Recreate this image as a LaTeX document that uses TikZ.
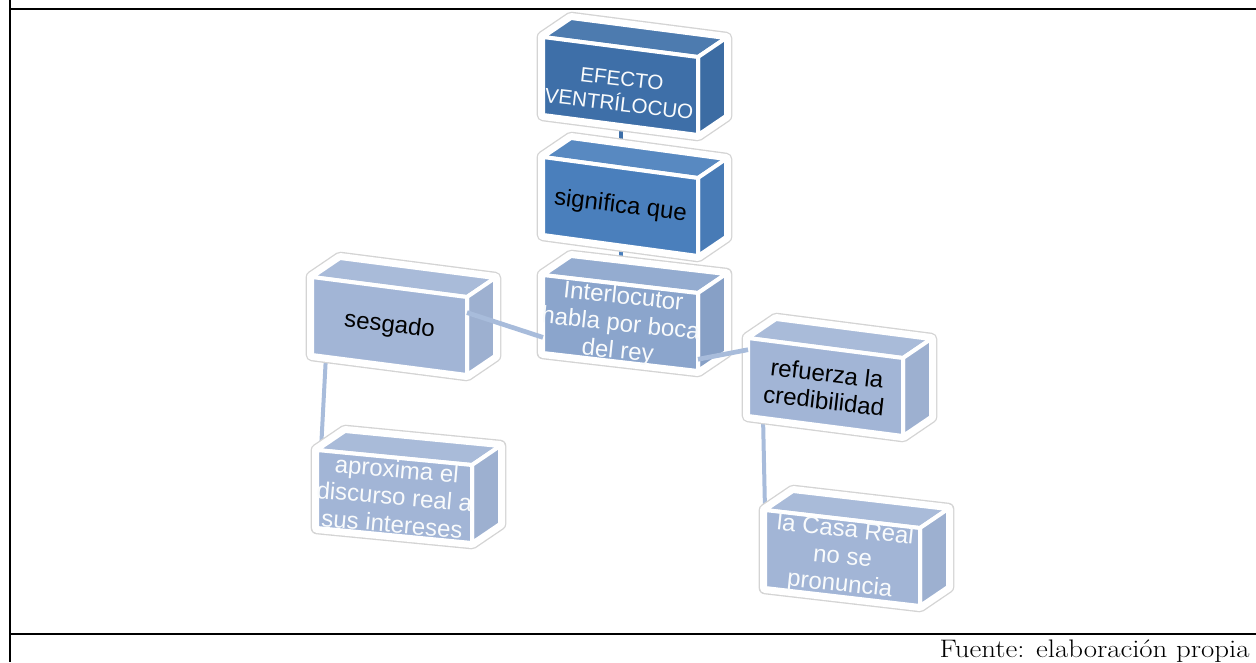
\documentclass[tikz,border=0pt]{standalone}
\usepackage{fontspec}
\usetikzlibrary{calc,backgrounds}
\newfontfamily\arialfont{Liberation Sans}

\definecolor{effblue}{HTML}{3E6FA8}
\definecolor{sigblue}{HTML}{4A7FBC}
\definecolor{midblue}{HTML}{8BA5CC}
\definecolor{paleblue}{HTML}{A2B5D6}
\definecolor{linkblue}{HTML}{A8BCDB}
\definecolor{rimgray}{HTML}{D4D4D4}

% size and depth of every box, in pixels
\newcommand{\cubew}{155}
\newcommand{\cubeh}{78}
\newcommand{\cubedx}{28}
\newcommand{\cubedy}{-19}

\tikzset{
  cuberim/.style={draw=rimgray, line width=9.5pt, line join=round},
  cubehalo/.style={draw=white, line width=7.5pt, line join=round},
  cubeface/.style={draw=white, line width=3pt, line join=round},
  boxtext/.style={font=\arialfont\fontsize{18}{20.5}\selectfont, align=center, inner sep=0pt},
  smalltext/.style={font=\arialfont\fontsize{15.5}{19}\selectfont},
  darktext/.style={text=black},
  lighttext/.style={text=white!94!paleblue},
  lowtext/.style={yshift=-4pt},
  uplink/.style={line width=3pt},
  sidelink/.style={draw=linkblue, line width=3.5pt},
  frameline/.style={line width=1.5pt}
}

% #1 name, #2 x, #3 y, #4 slant, #5 colour, #6 text style, #7 text
\newcommand{\cuboid}[7]{%
  \coordinate (#1-tl) at (#2,#3);
  \coordinate (#1-tr) at (#2+\cubew,#3+#4);
  \coordinate (#1-br) at (#2+\cubew,#3+#4+\cubeh);
  \coordinate (#1-bl) at (#2,#3+\cubeh);
  \coordinate (#1-btl) at ($(#1-tl)+(\cubedx,\cubedy)$);
  \coordinate (#1-btr) at ($(#1-tr)+(\cubedx,\cubedy)$);
  \coordinate (#1-bbr) at ($(#1-br)+(\cubedx,\cubedy)$);
  \draw[cuberim] (#1-bl) -- (#1-tl) -- (#1-btl) -- (#1-btr) -- (#1-bbr) -- (#1-br) -- cycle;
  \filldraw[cubehalo, fill=white] (#1-bl) -- (#1-tl) -- (#1-btl) -- (#1-btr) -- (#1-bbr) -- (#1-br) -- cycle;
  \filldraw[cubeface, fill=#5!92!white] (#1-tl) -- (#1-btl) -- (#1-btr) -- (#1-tr) -- cycle;
  \filldraw[cubeface, fill=#5!97!black] (#1-tr) -- (#1-btr) -- (#1-bbr) -- (#1-br) -- cycle;
  \filldraw[cubeface, fill=#5] (#1-tl) -- (#1-tr) -- (#1-br) -- (#1-bl) -- cycle;
  \begin{scope}
    \clip (#1-tl) -- (#1-tr) -- (#1-btr) -- (#1-bbr) -- (#1-br) -- (#1-bl) -- cycle;
    \node[boxtext, #6, rotate={-0.9*atan(#4/\cubew)}] (#1) at ($(#1-tl)!0.5!(#1-br)$) {#7};
  \end{scope}
}

\begin{document}
\begin{tikzpicture}[x=0.75pt, y=-0.75pt]
  \useasboundingbox (0,0) rectangle (1256,662);

  % frame
  \draw[frameline] (10,0) -- (10,662);
  \draw[frameline] (10,9) -- (1256,9);
  \draw[frameline] (10,634) -- (1256,634);
  \node[anchor=base east, font=\fontsize{19}{21}\selectfont, inner sep=0pt, xscale=1.14] (fuente) at (1250,657) {Fuente: elaboración propia};

  % boxes
  \cuboid{eff}{543}{37}{20}{effblue}{smalltext, lighttext, lowtext}{EFECTO\\VENTRÍLOCUO}
  \cuboid{sig}{543}{157}{21}{sigblue}{darktext}{significa que}
  \cuboid{int}{543}{275}{18}{midblue}{lighttext, yshift=-1.5pt}{Interlocutor\\habla por boca\\del rey}
  \cuboid{ses}{312}{277}{20}{paleblue}{darktext}{sesgado}
  \cuboid{apr}{317}{450}{15}{paleblue}{lighttext}{aproxima el\\discurso real a\\sus intereses}
  \cuboid{ref}{748}{338}{20}{paleblue}{darktext}{refuerza la\\credibilidad}
  \cuboid{cas}{765}{510}{18}{paleblue}{lighttext}{la Casa Real\\no se\\pronuncia}

  % links behind the boxes
  \begin{pgfonlayer}{background}
    \draw[uplink, effblue] ($(eff-bl)!0.5!(eff-br)$) -- ($(sig-tl)!0.5!(sig-tr)$);
    \draw[uplink, sigblue] ($(sig-bl)!0.5!(sig-br)$) -- ($(int-tl)!0.5!(int-tr)$);
    \draw[uplink, linkblue] ($(ses-bl)+(14,0)$) -- ($(apr-tl)+(4,0)$);
    \draw[uplink, linkblue] ($(ref-bl)+(15,0)$) -- (cas-tl);
  \end{pgfonlayer}

  % links across
  \draw[sidelink] ($(ses-tr)!0.2!(ses-br)$) -- ($(int-tl)!0.8!(int-bl)$);
  \draw[sidelink] ($(int-tr)!0.85!(int-br)$) -- ($(ref-tl)!0.15!(ref-bl)$);
\end{tikzpicture}
\end{document}
